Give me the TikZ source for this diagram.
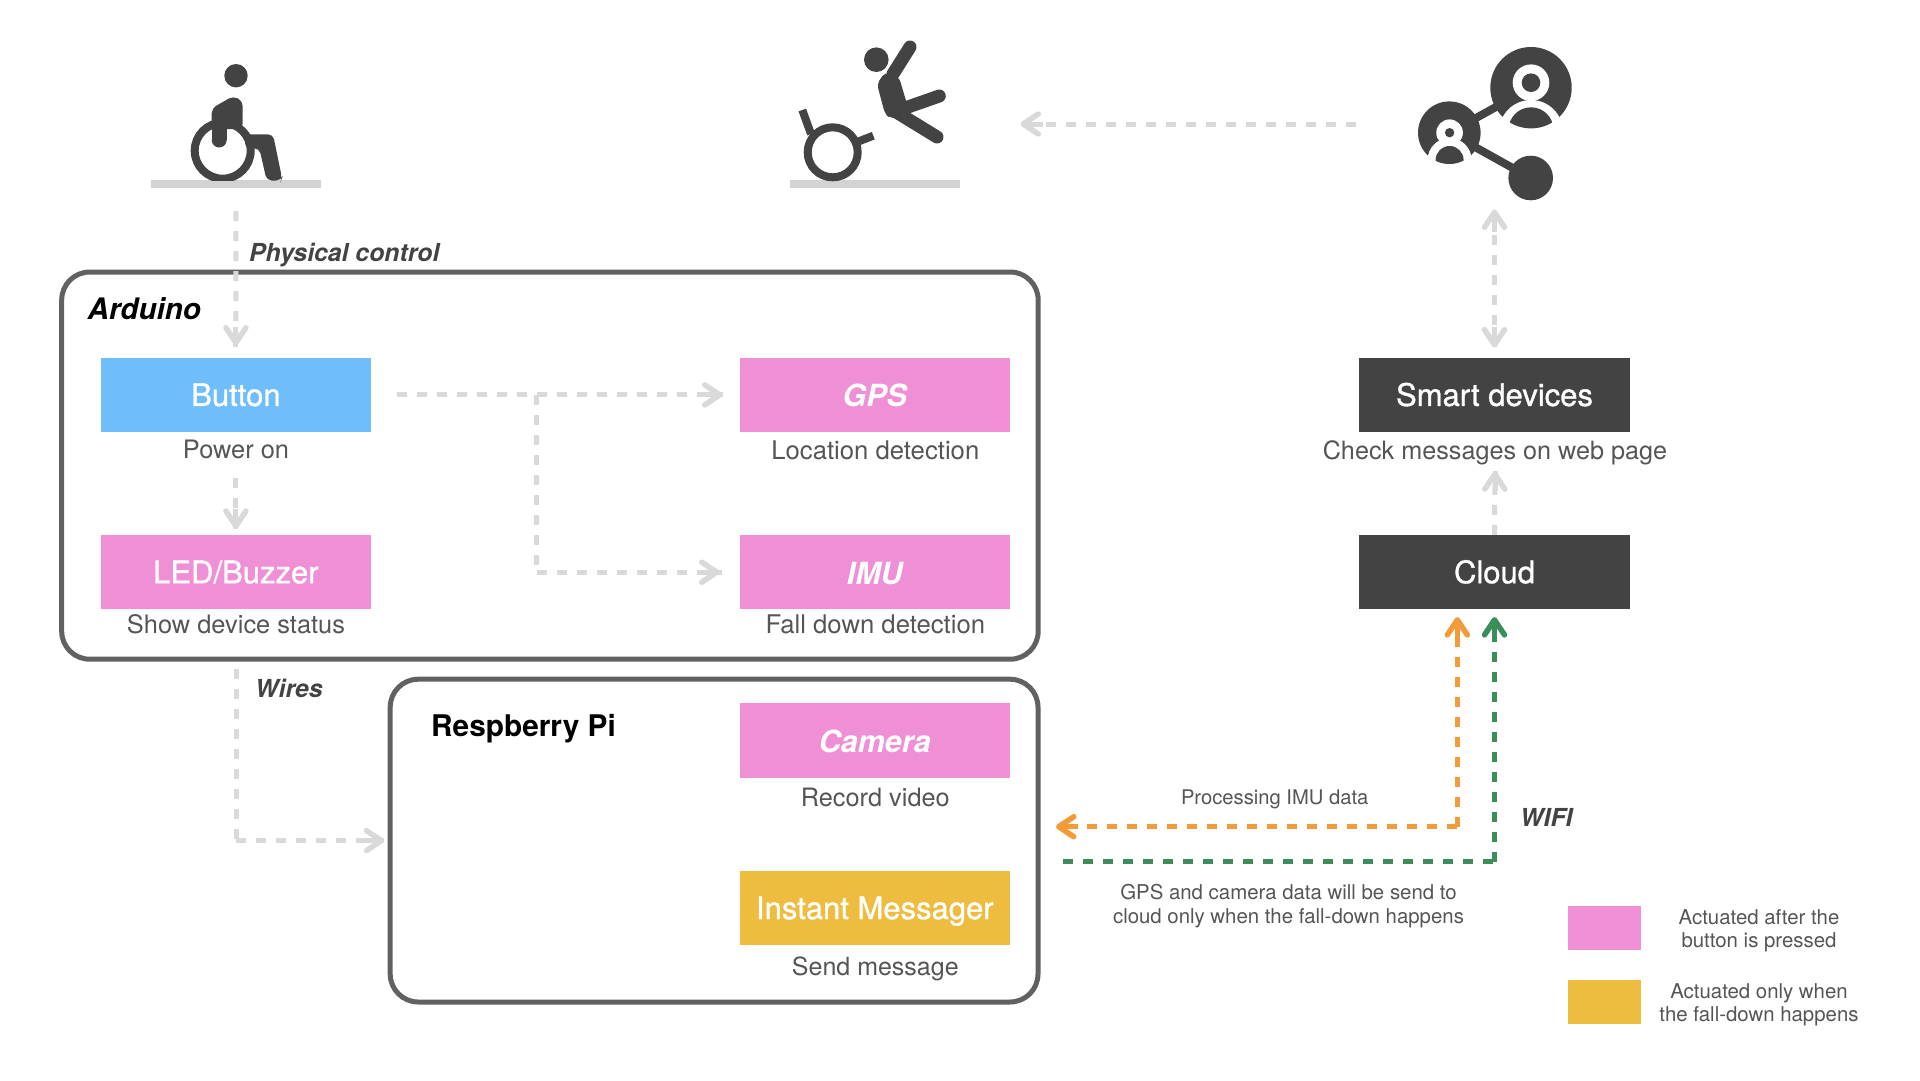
\documentclass[tikz,border=0pt]{standalone}
\usepackage{fontspec}
\setmainfont{TeX Gyre Heros}
\newfontfamily\medf[FakeBold=1]{TeX Gyre Heros}
\usetikzlibrary{arrows.meta}
\definecolor{ink}{HTML}{434343}
\definecolor{framec}{HTML}{616161}
\definecolor{flowc}{HTML}{D9D9D9}
\definecolor{barc}{HTML}{D3D3D3}
\definecolor{bluec}{HTML}{6FBDFA}
\definecolor{pinkc}{HTML}{EF90D6}
\definecolor{yellowc}{HTML}{EEBC3F}
\definecolor{orangec}{HTML}{F29B38}
\definecolor{greenc}{HTML}{3B8D59}
\definecolor{textc}{HTML}{555555}
\newcommand{\fs}[1]{\fontsize{#1}{#1}\selectfont}
\tikzset{
  x=1pt,y=-1pt,
  boxn/.style={minimum width=270.2pt,minimum height=74.5pt,inner sep=0pt,text=white,text height=22pt,text depth=0pt,font=\fs{31}\medf},
  ital/.style={font=\fs{30.5}\bfseries\itshape,text height=24pt},
  framebox/.style={draw=framec,line width=5pt,rounded corners=28pt,inner sep=0pt,outer sep=0pt},
  capt/.style={text=textc,font=\fs{25.4},inner sep=0pt},
  smalln/.style={text=textc,font=\fs{20.2},inner sep=0pt,align=center},
  legn/.style={text=textc,font=\fs{20.4},inner sep=0pt,align=center},
  noten/.style={text=ink,font=\fs{24.8}\bfseries\itshape,inner sep=0pt,anchor=west},
  barn/.style={fill=barc,minimum width=170pt,minimum height=8pt,inner sep=0pt},
  head/.style={-{Straight Barb[length=15pt,width=20pt,line width=5.5pt,round]}},
  flow/.style={draw=flowc,line width=5pt,dash pattern=on 10pt off 10pt,head},
  flowp/.style={draw=flowc,line width=5pt,dash pattern=on 10pt off 10pt},
  flowb/.style={flow,{Straight Barb[length=15pt,width=20pt,line width=5.5pt,round]}-{Straight Barb[length=15pt,width=20pt,line width=5.5pt,round]}},
  stub/.style={line width=5pt},
  wifi/.style={line width=5pt,dash pattern=on 10pt off 10pt},
}
\begin{document}
\begin{tikzpicture}
\useasboundingbox (0,0) rectangle (1920,1080);
% frames
\node[framebox,minimum width=976.5pt,minimum height=387.2pt] (ard) at (549.95,465.6) {};
\node[framebox,minimum width=647.8pt,minimum height=322.8pt] (rpi) at (714.1,840.6) {};
% boxes
\node[boxn,fill=bluec] (btn) at (235.9,394.9) {Button};
\node[boxn,fill=pinkc] (led) at (235.9,572.2) {LED/Buzzer};
\node[boxn,fill=pinkc,ital] (gps) at (874.8,394.9) {GPS};
\node[boxn,fill=pinkc,ital] (imu) at (874.8,572.2) {IMU};
\node[boxn,fill=pinkc,ital] (cam) at (874.8,740.3) {Camera};
\node[boxn,fill=yellowc] (msg) at (874.8,908) {Instant Messager};
\node[boxn,fill=ink] (smart) at (1494.5,394.9) {Smart devices};
\node[boxn,fill=ink] (cloud) at (1494.5,572.2) {Cloud};
% captions
\node[capt] (c1) at (236,449) {Power on};
\node[capt] (c2) at (236,624.7) {Show device status};
\node[capt,font=\fs{25.7}] (c3) at (875.3,450) {Location detection};
\node[capt,font=\fs{25.7}] (c4) at (875.3,624.5) {Fall down detection};
\node[capt,font=\fs{25.3}] (c5) at (875.3,797.5) {Record video};
\node[capt,font=\fs{25}] (c6) at (875.3,969.2) {Send message};
\node[capt,font=\fs{25.2}] (c7) at (1495,453) {Check messages on web page};
% titles
\node[anchor=west,inner sep=0pt,font=\fs{29.6}\bfseries\itshape] (t1) at (87.5,309) {Arduino};
\node[anchor=west,inner sep=0pt,font=\fs{29.8}\bfseries] (t2) at (431,728.5) {Respberry Pi};
\node[noten] (n1) at (249,255) {Physical control};
\node[noten] (n2) at (255,688.5) {Wires};
\node[noten] (n3) at (1520,817.5) {WIFI};
\node[smalln] (s1) at (1274.7,799) {Processing IMU data};
\node[smalln,font=\fs{20.4}] (s2) at (1288.5,906.3) {GPS and camera data will be send to\\[4pt]cloud only when the fall-down happens};
% legend
\node[fill=pinkc,minimum width=73pt,minimum height=44pt,inner sep=0pt] (lg1) at (1604.2,927.5) {};
\node[fill=yellowc,minimum width=73pt,minimum height=44pt,inner sep=0pt] (lg2) at (1604.2,1002) {};
\node[legn] (l1) at (1759,931) {Actuated after the\\[3pt]button is pressed};
\node[legn] (l2) at (1759,1004.5) {Actuated only when\\[3pt]the fall-down happens};
% bars
\node[barn] (g1) at (236,184) {};
\node[barn] (g2) at (875,184) {};
\coordinate (fallpt) at (1020.5,124);
\coordinate (socleft) at (1356,124);
\coordinate (socpt) at (1494.5,209.5);
\coordinate (branch) at (536.5,395);
\coordinate (wirestart) at (236,669);
\coordinate (orangecorner) at (1457.3,826.7);
\coordinate (orangeleft) at (1056,826.7);
\coordinate (greencorner) at (1494.5,861.7);
\coordinate (greenleft) at (1063,861.7);
% connectors
\draw[flow,shorten <=23pt,shorten >=12pt] (g1.south) -- (btn.north);
\draw[flow,shorten <=45.6pt,shorten >=6pt] (btn.south) -- (led.north);
\draw[flow,shorten <=26pt,shorten >=17pt] (btn.east) -- (gps.west);
\draw[flowp] (branch) -- (branch |- imu.west);
\draw[flow,shorten >=20pt] (branch |- imu.west) -- (imu.west);
\draw[flow] (socleft) -- (fallpt);
\draw[flowb,shorten >=10pt] (socpt) -- (smart.north);
\draw[flow,shorten >=6pt] (cloud.north) -- (c7.south);
\draw[flowp] (wirestart) -- (wirestart |- rpi.west);
\draw[flow,shorten >=6pt] (wirestart |- rpi.west) -- (rpi.west);
\draw[wifi,draw=orangec,head,shorten >=7.5pt] (orangecorner) -- (cloud.south -| orangecorner);
\draw[wifi,draw=orangec,head] (orangecorner) -- (orangeleft);
\draw[wifi,draw=greenc] (greenleft) -- (greencorner);
\draw[wifi,draw=greenc,head,shorten >=7.5pt] (greencorner) -- (cloud.south);
% solid ends of the arrows
\draw[stub,draw=flowc] (btn.north) ++(0,-30) -- ++(0,20);
\draw[stub,draw=flowc] (led.north) ++(0,-26) -- ++(0,20);
\draw[stub,draw=flowc] (gps.west) ++(-37,0) -- ++(20,0);
\draw[stub,draw=flowc] (imu.west) ++(-38,0) -- ++(20,0);
\draw[stub,draw=flowc] (fallpt) ++(22,0) -- ++(-20,0);
\draw[stub,draw=flowc] (socpt) ++(0,22) -- ++(0,-20);
\draw[stub,draw=flowc] (smart.north) ++(0,-30) -- ++(0,20);
\draw[stub,draw=flowc] (rpi.west) ++(-26,0) -- ++(20,0);
\draw[stub,draw=flowc] (c7.south) ++(0,26) -- ++(0,-20);
\draw[stub,draw=orangec] (cloud.south -| orangecorner) ++(0,29) -- ++(0,-20);
\draw[stub,draw=orangec] (orangeleft) ++(22,0) -- ++(-20,0);
\draw[stub,draw=greenc] (cloud.south) ++(0,29) -- ++(0,-20);
% wheelchair icon
\fill[ink] (236,75.7) circle (11.7);
\begin{scope}
\clip (150,60) rectangle (300,180);
\draw[ink,line width=8pt] (222.7,150.7) circle (28);
\end{scope}
\fill[ink,rounded corners=5pt] (245,134.3) -- (273,134.3) -- (282,178) -- (281,180.5) -- (266.7,180.5) -- (259.3,148.3) -- (245,148.3) -- cycle;
\fill[ink,rounded corners=5pt] (211.7,125) -- (211.7,108.3) -- (233.3,96) -- (242.7,101) -- (242.7,129) [sharp corners] -- (226.7,129) -- (211.7,129) -- cycle;
\fill[ink] (211.7,125) rectangle (226.7,140);
\fill[ink] (219.2,140) circle (7.5);
% fall icon
\draw[ink,line width=8pt] (832.7,152.3) circle (25);
\draw[ink,line width=8pt] (802.3,110) -- (811,134);
\draw[ink,line width=8pt] (857,142) -- (873.3,135.7);
\fill[ink] (876.3,59.7) circle (12.3);
\draw[ink,line width=13pt,line cap=round] (910,47) -- (893,74);
\fill[ink,rounded corners=5pt] (885,72) -- (899,77) -- (907,104) -- (912,118) -- (890,118) -- (885,114) -- (877,84) -- cycle;
\draw[ink,line width=13pt,line cap=round] (905,108) -- (939.3,96);
\draw[ink,line width=13pt,line cap=round] (893,110) -- (937,137);
% social icon
\draw[ink,line width=8pt] (1449.3,132.7) -- (1531,87.7);
\fill[ink] (1531,87.7) circle (40.7);
\fill[white] (1531,132) circle (32);
\fill[white] (1531,82.7) circle (18.3);
\fill[ink] (1531,82.7) circle (9.3);
\begin{scope}
\clip (1531,87.7) circle (40.7);
\fill[ink] (1531,129.8) circle (22.5);
\end{scope}
\fill[ink] (1449.3,132.7) circle (31.3);
\fill[white] (1449.6,160) circle (22);
\fill[white] (1449.6,132.7) circle (13.3);
\fill[ink] (1449.6,132.7) circle (4.7);
\begin{scope}
\clip (1449.3,132.7) circle (31.3);
\fill[ink] (1449.6,160) circle (14);
\end{scope}
\draw[ink,line width=8pt] (1475,147) -- (1530.7,178);
\fill[ink] (1530.7,178) circle (22.3);
\end{tikzpicture}
\end{document}
